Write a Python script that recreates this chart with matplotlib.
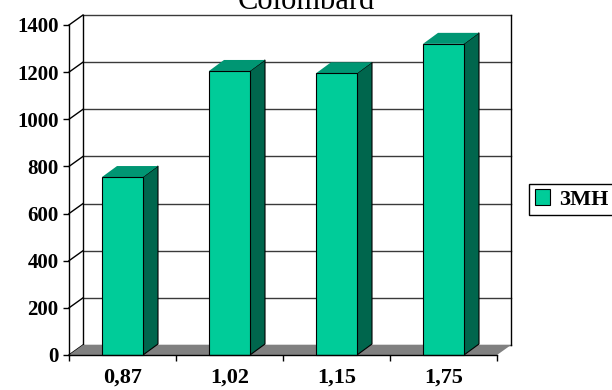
import matplotlib.pyplot as plt
from matplotlib.patches import Polygon, Rectangle, Patch

categories = ['0,87', '1,02', '1,15', '1,75']
values = [755, 1205, 1195, 1320]
series_name = '3MH'
chart_title = 'Colombard'
y_ticks = [0, 200, 400, 600, 800, 1000, 1200, 1400]

FRONT = '#00CC99'
TOP = '#009673'
SIDE = '#00664D'
FLOOR = '#808080'
SERIF = 'Liberation Serif'

W, H = 612, 390
fig = plt.figure(figsize=(W / 100, H / 100), dpi=100)
ax = fig.add_axes([69 / W, 35 / H, 428 / W, 330 / H])
n = len(categories)
ymax = y_ticks[-1]
ax.set_xlim(0, n)
ax.set_ylim(0, ymax)
ax.set_facecolor('none')

# pixel sizes -> data units for the fake 3d depth
ppx = 428 / n
ppy = 330 / ymax
wall_dx, wall_dy = 14 / ppx, 10 / ppy
bar_dx, bar_dy = 15 / ppx, 11 / ppy
bar_w = 41 / ppx

# back wall: gridlines, frame, diagonals to the front axis
for v in y_ticks:
    ax.plot([wall_dx, n + wall_dx], [v + wall_dy, v + wall_dy],
            color='#3a3a3a', lw=1, clip_on=False, zorder=1)
    ax.plot([0, wall_dx], [v, v + wall_dy], color='black', lw=1,
            clip_on=False, zorder=1)
ax.plot([wall_dx, wall_dx], [wall_dy, ymax + wall_dy], color='black', lw=1,
        clip_on=False, zorder=1)
ax.plot([n + wall_dx, n + wall_dx], [wall_dy, ymax + wall_dy], color='black',
        lw=1, clip_on=False, zorder=1)

# floor
ax.add_patch(Polygon([(0, 0), (n, 0), (n + wall_dx, wall_dy), (wall_dx, wall_dy)],
                     closed=True, facecolor=FLOOR, edgecolor='none',
                     clip_on=False, zorder=2))

# bars
for i, v in enumerate(values):
    x0 = i + 0.5 - bar_w / 2
    x1 = i + 0.5 + bar_w / 2
    side = Polygon([(x1, 0), (x1 + bar_dx, bar_dy), (x1 + bar_dx, v + bar_dy), (x1, v)],
                   closed=True, facecolor=SIDE, edgecolor='black', lw=0.8,
                   clip_on=False, zorder=3)
    top = Polygon([(x0, v), (x1, v), (x1 + bar_dx, v + bar_dy), (x0 + bar_dx, v + bar_dy)],
                  closed=True, facecolor=TOP, edgecolor='none',
                  clip_on=False, zorder=3)
    front = Rectangle((x0, 0), bar_w, v, facecolor=FRONT, edgecolor='black',
                      lw=0.8, clip_on=False, zorder=4)
    ax.add_patch(side)
    ax.add_patch(top)
    ax.add_patch(front)

for s in ['top', 'right']:
    ax.spines[s].set_visible(False)
for s in ['left', 'bottom']:
    ax.spines[s].set_linewidth(1)
    ax.spines[s].set_zorder(5)

ax.set_yticks(y_ticks)
ax.set_yticklabels([str(t) for t in y_ticks], fontsize=15, fontweight='bold',
                   family=SERIF)
ax.tick_params(axis='y', length=4.5, width=1, pad=3)

ax.set_xticks(range(n + 1))
ax.set_xticklabels([])
ax.tick_params(axis='x', which='major', length=4, width=1)
ax.set_xticks([i + 0.5 for i in range(n)], minor=True)
ax.set_xticklabels(categories, minor=True, fontsize=16, fontweight='bold',
                   family=SERIF)
ax.tick_params(axis='x', which='minor', length=0, pad=9)

fig.text(306 / W, (H - 9) / H, chart_title, ha='center', va='baseline',
         fontsize=22, family=SERIF)

leg = fig.legend(handles=[Patch(facecolor=FRONT, edgecolor='black', lw=0.8,
                                label=series_name)],
                 loc='center left', bbox_to_anchor=(529 / W, (H - 199.5) / H),
                 prop={'family': SERIF, 'weight': 'bold', 'size': 16},
                 fancybox=False, framealpha=1, edgecolor='black',
                 handlelength=0.7, handleheight=0.7, handletextpad=0.4,
                 borderpad=0.25, borderaxespad=0)
leg.get_frame().set_linewidth(1)

fig.savefig('out.png', dpi=100)
